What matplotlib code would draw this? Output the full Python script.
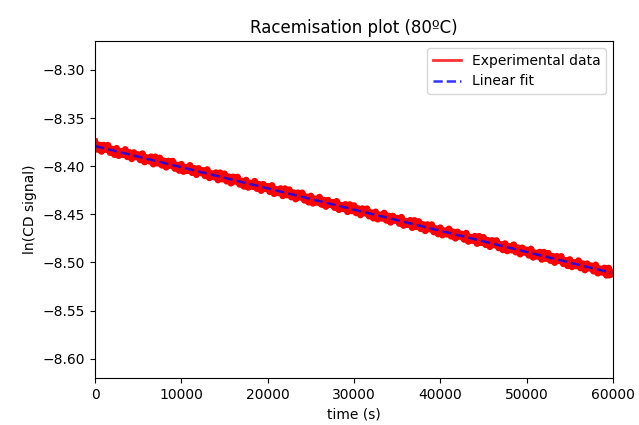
import numpy as np
import matplotlib
matplotlib.use('Agg')
import matplotlib.pyplot as plt

# ln(CD signal), one value every 250 s
time_step = 250
ln_cd = [
    -8.3750, -8.3825, -8.3781, -8.3846, -8.3782, -8.3827, -8.3783, -8.3858, -8.3824, -8.3879,
    -8.3815, -8.3890, -8.3846, -8.3881, -8.3827, -8.3902, -8.3858, -8.3923, -8.3859, -8.3904,
    -8.3880, -8.3935, -8.3871, -8.3956, -8.3912, -8.3947, -8.3903, -8.3978, -8.3904, -8.3969,
    -8.3915, -8.3990, -8.3946, -8.4011, -8.3947, -8.3992, -8.3948, -8.4023, -8.3989, -8.4044,
    -8.3980, -8.4055, -8.4011, -8.4046, -8.3992, -8.4067, -8.4023, -8.4088, -8.4024, -8.4069,
    -8.4045, -8.4100, -8.4036, -8.4121, -8.4077, -8.4112, -8.4068, -8.4143, -8.4069, -8.4134,
    -8.4080, -8.4155, -8.4111, -8.4176, -8.4112, -8.4157, -8.4113, -8.4188, -8.4154, -8.4209,
    -8.4145, -8.4220, -8.4176, -8.4211, -8.4157, -8.4232, -8.4188, -8.4253, -8.4189, -8.4234,
    -8.4210, -8.4265, -8.4201, -8.4286, -8.4242, -8.4277, -8.4233, -8.4308, -8.4234, -8.4299,
    -8.4245, -8.4320, -8.4276, -8.4341, -8.4277, -8.4322, -8.4278, -8.4353, -8.4319, -8.4374,
    -8.4310, -8.4385, -8.4341, -8.4376, -8.4322, -8.4397, -8.4353, -8.4418, -8.4354, -8.4399,
    -8.4375, -8.4430, -8.4366, -8.4451, -8.4407, -8.4442, -8.4398, -8.4473, -8.4399, -8.4464,
    -8.4410, -8.4485, -8.4441, -8.4506, -8.4442, -8.4487, -8.4443, -8.4518, -8.4484, -8.4539,
    -8.4475, -8.4550, -8.4506, -8.4541, -8.4487, -8.4562, -8.4518, -8.4583, -8.4519, -8.4564,
    -8.4540, -8.4595, -8.4531, -8.4616, -8.4572, -8.4607, -8.4563, -8.4638, -8.4564, -8.4629,
    -8.4575, -8.4650, -8.4606, -8.4671, -8.4607, -8.4652, -8.4608, -8.4683, -8.4649, -8.4704,
    -8.4640, -8.4715, -8.4671, -8.4706, -8.4652, -8.4727, -8.4683, -8.4748, -8.4684, -8.4729,
    -8.4705, -8.4760, -8.4696, -8.4781, -8.4737, -8.4772, -8.4728, -8.4803, -8.4729, -8.4794,
    -8.4740, -8.4815, -8.4771, -8.4836, -8.4772, -8.4817, -8.4773, -8.4848, -8.4814, -8.4869,
    -8.4805, -8.4880, -8.4836, -8.4871, -8.4817, -8.4892, -8.4848, -8.4913, -8.4849, -8.4894,
    -8.4870, -8.4925, -8.4861, -8.4946, -8.4902, -8.4937, -8.4893, -8.4968, -8.4894, -8.4959,
    -8.4905, -8.4980, -8.4936, -8.5001, -8.4937, -8.4982, -8.4938, -8.5013, -8.4979, -8.5034,
    -8.4970, -8.5045, -8.5001, -8.5036, -8.4982, -8.5057, -8.5013, -8.5078, -8.5014, -8.5059,
    -8.5035, -8.5090, -8.5026, -8.5111, -8.5067, -8.5102, -8.5058, -8.5133, -8.5059, -8.5124,
]
ln_cd = np.array(ln_cd)
time = np.arange(len(ln_cd)) * time_step

slope, intercept = np.polyfit(time, ln_cd, 1)

fig = plt.figure(figsize=(6.39, 4.25), dpi=100)
ax = fig.add_axes([0.1487, 0.1106, 0.8106, 0.7929])

ax.plot(time, ln_cd, color='red', linewidth=5, label='Experimental data')
ax.plot(time, slope * time + intercept, color='blue', alpha=0.8, linestyle='--',
        linewidth=1.8, label='Linear fit')

ax.set_xlim(0, 60000)
ax.set_ylim(-8.62, -8.27)
ax.set_yticks([-8.30, -8.35, -8.40, -8.45, -8.50, -8.55, -8.60])
ax.set_xlabel('time (s)')
ax.set_ylabel('ln(CD signal)')
ax.set_title('Racemisation plot (80ºC)')
leg = ax.legend(loc='upper right')
# legend handle for the data drawn like a single trace
leg.get_lines()[0].set_linewidth(2)
leg.get_lines()[0].set_alpha(0.8)

fig.savefig('out.png', dpi=100)
